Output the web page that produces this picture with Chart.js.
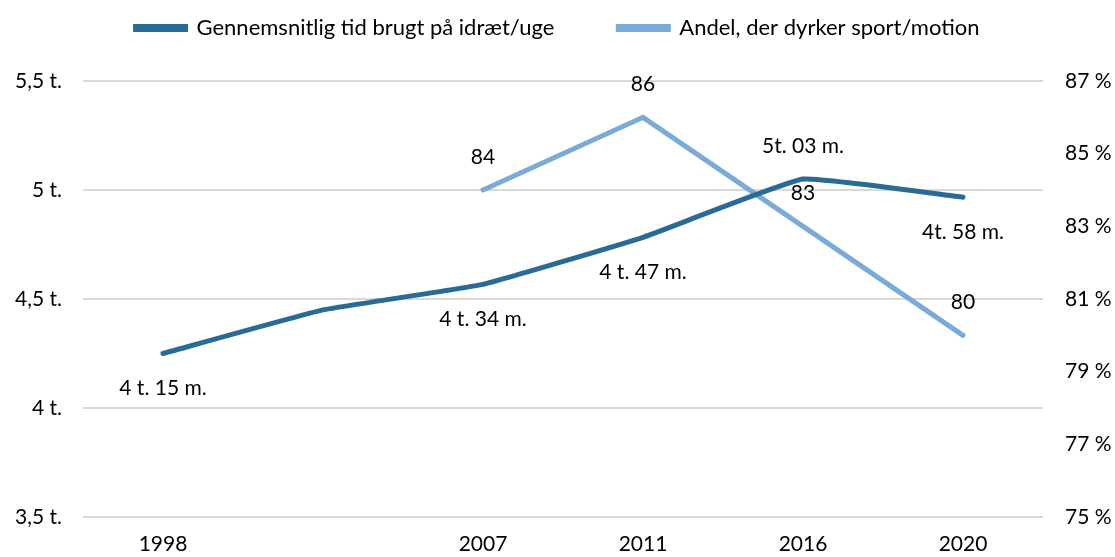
<!DOCTYPE html>
<html>
<head>
<meta charset="utf-8">
<script src="https://cdn.jsdelivr.net/npm/chart.js@4.4.1/dist/chart.umd.min.js"></script>
<style>
  html, body { margin: 0; padding: 0; background: #fff; }
  #wrap { width: 1115px; height: 557px; }
</style>
</head>
<body>
<div id="wrap"><canvas id="chart"></canvas></div>
<script>
const years = ['1998', '', '2007', '2011', '2016', '2020'];
const hoursPerWeek = [4.25, 4.45, 4.567, 4.783, 5.05, 4.967];
const hoursLabels = ['4 t. 15 m.', '', '4 t. 34 m.', '4 t. 47 m.', '5t. 03 m.', '4t. 58 m.'];
const hoursLabelPos = ['below', '', 'below', 'below', 'above', 'below'];
const sharePct = [null, null, 84, 86, 83, 80];
const shareLabels = ['', '', '84', '86', '83', '80'];
const shareLabelPos = ['', '', 'above', 'above', 'above', 'above'];

const darkBlue = '#2a6b95';
const lightBlue = '#79aad8';
const fontFamily = 'Lato, "Open Sans", sans-serif';

// draws the value labels next to each point
const pointLabels = {
    id: 'pointLabels',
    afterDatasetsDraw(chart) {
        const ctx = chart.ctx;
        const sets = [
            { idx: 0, text: hoursLabels, pos: hoursLabelPos },
            { idx: 1, text: shareLabels, pos: shareLabelPos }
        ];
        ctx.save();
        ctx.font = '21px ' + fontFamily;
        ctx.fillStyle = '#000';
        ctx.textAlign = 'center';
        ctx.textBaseline = 'middle';
        sets.forEach(s => {
            const meta = chart.getDatasetMeta(s.idx);
            meta.data.forEach((pt, i) => {
                if (!s.text[i]) return;
                const dy = s.pos[i] === 'above' ? -33 : 35;
                ctx.fillText(s.text[i], pt.x, pt.y + dy);
            });
        });
        ctx.restore();
    }
};

// legend: wide item spacing but drawn higher, closer to the top edge
const legendTweak = {
    id: 'legendTweak',
    afterInit(chart) {
        const legend = chart.legend;
        const fit = legend.fit;
        const draw = legend.draw;
        legend.fit = function () {
            fit.call(this);
            this.height -= 15;
        };
        legend.draw = function () {
            const top = this.top;
            this.top = top - 47;
            draw.call(this);
            this.top = top;
        };
    }
};

new Chart(document.getElementById('chart'), {
    type: 'line',
    data: {
        labels: years,
        datasets: [{
            label: 'Gennemsnitlig tid brugt på idræt/uge',
            data: hoursPerWeek,
            borderColor: darkBlue,
            backgroundColor: darkBlue,
            borderWidth: 5,
            borderCapStyle: 'round',
            tension: 0.1,
            pointRadius: 0,
            yAxisID: 'y'
        }, {
            label: 'Andel, der dyrker sport/motion',
            data: sharePct,
            borderColor: lightBlue,
            backgroundColor: lightBlue,
            borderWidth: 5,
            borderCapStyle: 'round',
            tension: 0,
            pointRadius: 0,
            yAxisID: 'y1'
        }]
    },
    options: {
        responsive: true,
        maintainAspectRatio: false,
        animation: false,
        layout: { padding: 0 },
        plugins: {
            legend: {
                position: 'top',
                labels: {
                    font: { size: 22, family: fontFamily },
                    color: '#000',
                    boxWidth: 50,
                    boxHeight: 3,
                    padding: 64
                }
            },
            tooltip: { enabled: false }
        },
        scales: {
            x: {
                offset: true,
                grid: { display: false, drawTicks: false },
                border: { display: false },
                ticks: {
                    font: { size: 21, family: fontFamily },
                    color: '#000',
                    padding: 15,
                    autoSkip: false,
                    maxRotation: 0
                },
                afterFit(scale) { scale.height = 40; }
            },
            y: {
                position: 'left',
                min: 3.5,
                max: 5.5,
                grid: { color: '#d9d9d9', lineWidth: 2, drawTicks: false },
                border: { display: false },
                ticks: {
                    stepSize: 0.5,
                    font: { size: 21, family: fontFamily },
                    color: '#000',
                    padding: 21,
                    callback: v => String(v).replace('.', ',') + ' t.'
                },
                afterFit(scale) { scale.width = 83; }
            },
            y1: {
                position: 'right',
                min: 75,
                max: 87,
                grid: { display: false, drawTicks: false },
                border: { display: false },
                ticks: {
                    stepSize: 2,
                    font: { size: 21, family: fontFamily },
                    color: '#000',
                    padding: 22,
                    callback: v => v + ' %'
                },
                afterFit(scale) { scale.width = 72; }
            }
        }
    },
    plugins: [pointLabels, legendTweak]
});
</script>
</body>
</html>
